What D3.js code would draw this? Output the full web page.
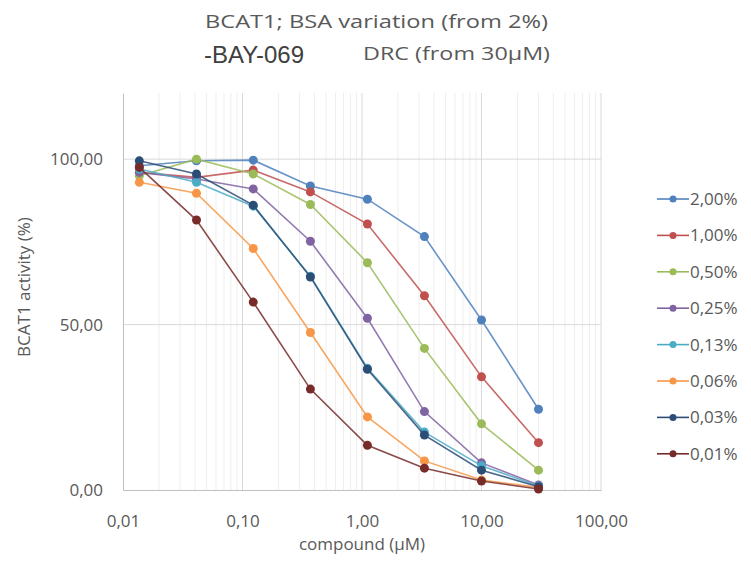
<!DOCTYPE html>
<html>
<head>
<meta charset="utf-8">
<script src="https://cdn.jsdelivr.net/npm/d3@7"></script>
<style>
  body { margin: 0; background: #fff; }
  text { font-family: "Open Sans", "Noto Sans", sans-serif; fill: #595959; }
</style>
</head>
<body>
<svg id="chart" width="751" height="565"></svg>
<script>
// compound concentrations (µM), 1:3 dilution from 30
var conc = [0.0137, 0.0412, 0.123, 0.370, 1.11, 3.33, 10, 30];

var seriesNames = ["2,00%", "1,00%", "0,50%", "0,25%", "0,13%", "0,06%", "0,03%", "0,01%"];
var seriesColors = ["#4F81BD", "#C0504D", "#9BBB59", "#8064A2", "#4BACC6", "#F79646", "#2C4D75", "#772C2A"];

var bsa200 = [98.0, 99.5, 99.7, 91.9, 87.9, 76.6, 51.4, 24.4];
var bsa100 = [96.0, 94.5, 96.7, 90.1, 80.4, 58.7, 34.2, 14.3];
var bsa050 = [95.0, 100.0, 95.5, 86.3, 68.7, 42.8, 20.0, 6.0];
var bsa025 = [96.0, 94.0, 91.0, 75.2, 51.9, 23.7, 8.2, 1.5];
var bsa013 = [97.0, 93.0, 85.8, 64.6, 36.8, 17.5, 7.3, 1.2];
var bsa006 = [93.0, 89.7, 73.0, 47.6, 22.1, 8.8, 3.0, 0.8];
var bsa003 = [99.5, 95.5, 86.1, 64.4, 36.5, 16.6, 6.0, 1.0];
var bsa001 = [97.5, 81.6, 56.8, 30.5, 13.5, 6.6, 2.7, 0.3];

var xTicks = [0.01, 0.1, 1, 10, 100];
var yTicks = [0, 50, 100];

var allSeries = [bsa200, bsa100, bsa050, bsa025, bsa013, bsa006, bsa003, bsa001];

var svg = d3.select("#chart");

var x = d3.scaleLog().domain([0.01, 100]).range([123, 601]);
var y = d3.scaleLinear().domain([0, 120]).range([490, 93]);

var fmt = function (v) { return d3.format(".2f")(v).replace(".", ","); };

// minor vertical grid
var minor = [];
for (var d = 0.01; d < 100; d *= 10) {
    for (var k = 2; k <= 9; k++) minor.push(d * k);
}
svg.append("g").selectAll("line").data(minor).enter().append("line")
    .attr("x1", (v) => x(v)).attr("x2", (v) => x(v))
    .attr("y1", y(120)).attr("y2", y(0))
    .attr("stroke", "#eeeeee").attr("stroke-width", 1);

// major vertical grid
svg.append("g").selectAll("line").data(xTicks.slice(1)).enter().append("line")
    .attr("x1", (v) => x(v)).attr("x2", (v) => x(v))
    .attr("y1", y(120)).attr("y2", y(0))
    .attr("stroke", "#d9d9d9").attr("stroke-width", 1);

// horizontal grid
svg.append("g").selectAll("line").data([50, 100]).enter().append("line")
    .attr("x1", x(0.01)).attr("x2", x(100))
    .attr("y1", (v) => y(v)).attr("y2", (v) => y(v))
    .attr("stroke", "#d9d9d9").attr("stroke-width", 1);

// axes
var xAxis = d3.axisBottom(x).tickValues(xTicks).tickFormat(fmt).tickSize(0).tickPadding(0);
var gx = svg.append("g").attr("transform", "translate(0," + y(0) + ")").call(xAxis);
gx.select(".domain").attr("stroke", "#bfbfbf");
gx.selectAll("text").attr("dy", null).attr("y", 37)
    .style("font-size", "17px").style("fill", "#595959");

var yAxis = d3.axisLeft(y).tickValues(yTicks).tickFormat(fmt).tickSize(0).tickPadding(20);
var gy = svg.append("g").attr("transform", "translate(" + x(0.01) + ",0)").call(yAxis);
gy.select(".domain").attr("stroke", "#bfbfbf");
gy.selectAll("text").style("font-size", "17px").style("fill", "#595959");

// series
var line = d3.line().x((d, i) => x(conc[i])).y((d) => y(d));

allSeries.forEach(function (vals, si) {
    var g = svg.append("g").attr("class", "series");
    g.append("path")
        .attr("d", line(vals))
        .attr("fill", "none")
        .attr("stroke", seriesColors[si])
        .attr("stroke-opacity", 0.85)
        .attr("stroke-width", 1.6);
    g.selectAll("circle").data(vals).enter().append("circle")
        .attr("cx", (d, i) => x(conc[i]))
        .attr("cy", (d) => y(d))
        .attr("r", 4.5)
        .attr("fill", seriesColors[si]);
});

// legend
var legend = svg.append("g").attr("transform", "translate(657,199)");
seriesNames.forEach(function (name, i) {
    var row = legend.append("g").attr("transform", "translate(0," + (i * 36.4) + ")");
    row.append("line").attr("x1", 0).attr("x2", 32).attr("y1", 0).attr("y2", 0)
        .attr("stroke", seriesColors[i]).attr("stroke-width", 1.6);
    row.append("circle").attr("cx", 16).attr("cy", 0).attr("r", 3.5).attr("fill", seriesColors[i]);
    row.append("text").attr("x", 33).attr("y", 6).style("font-size", "17px").text(name);
});

// titles
svg.append("text").attr("x", 205).attr("y", 28)
    .attr("textLength", 343).attr("lengthAdjust", "spacingAndGlyphs")
    .style("font-size", "19px").text("BCAT1; BSA variation (from 2%)");
svg.append("text").attr("x", 204).attr("y", 63)
    .style("font-family", "'Liberation Sans', Arial, sans-serif")
    .style("font-size", "24px").style("fill", "#404040").text("-BAY-069");
svg.append("text").attr("x", 363).attr("y", 60)
    .attr("textLength", 187).attr("lengthAdjust", "spacingAndGlyphs")
    .style("font-size", "18px").text("DRC (from 30\u00b5M)");

svg.append("text")
    .attr("transform", "translate(30,287) rotate(-90)")
    .attr("text-anchor", "middle")
    .style("font-size", "17px").text("BCAT1 activity (%)");

svg.append("text").attr("x", 362).attr("y", 550)
    .attr("text-anchor", "middle")
    .style("font-size", "17px").text("compound (\u00b5M)");
</script>
</body>
</html>
